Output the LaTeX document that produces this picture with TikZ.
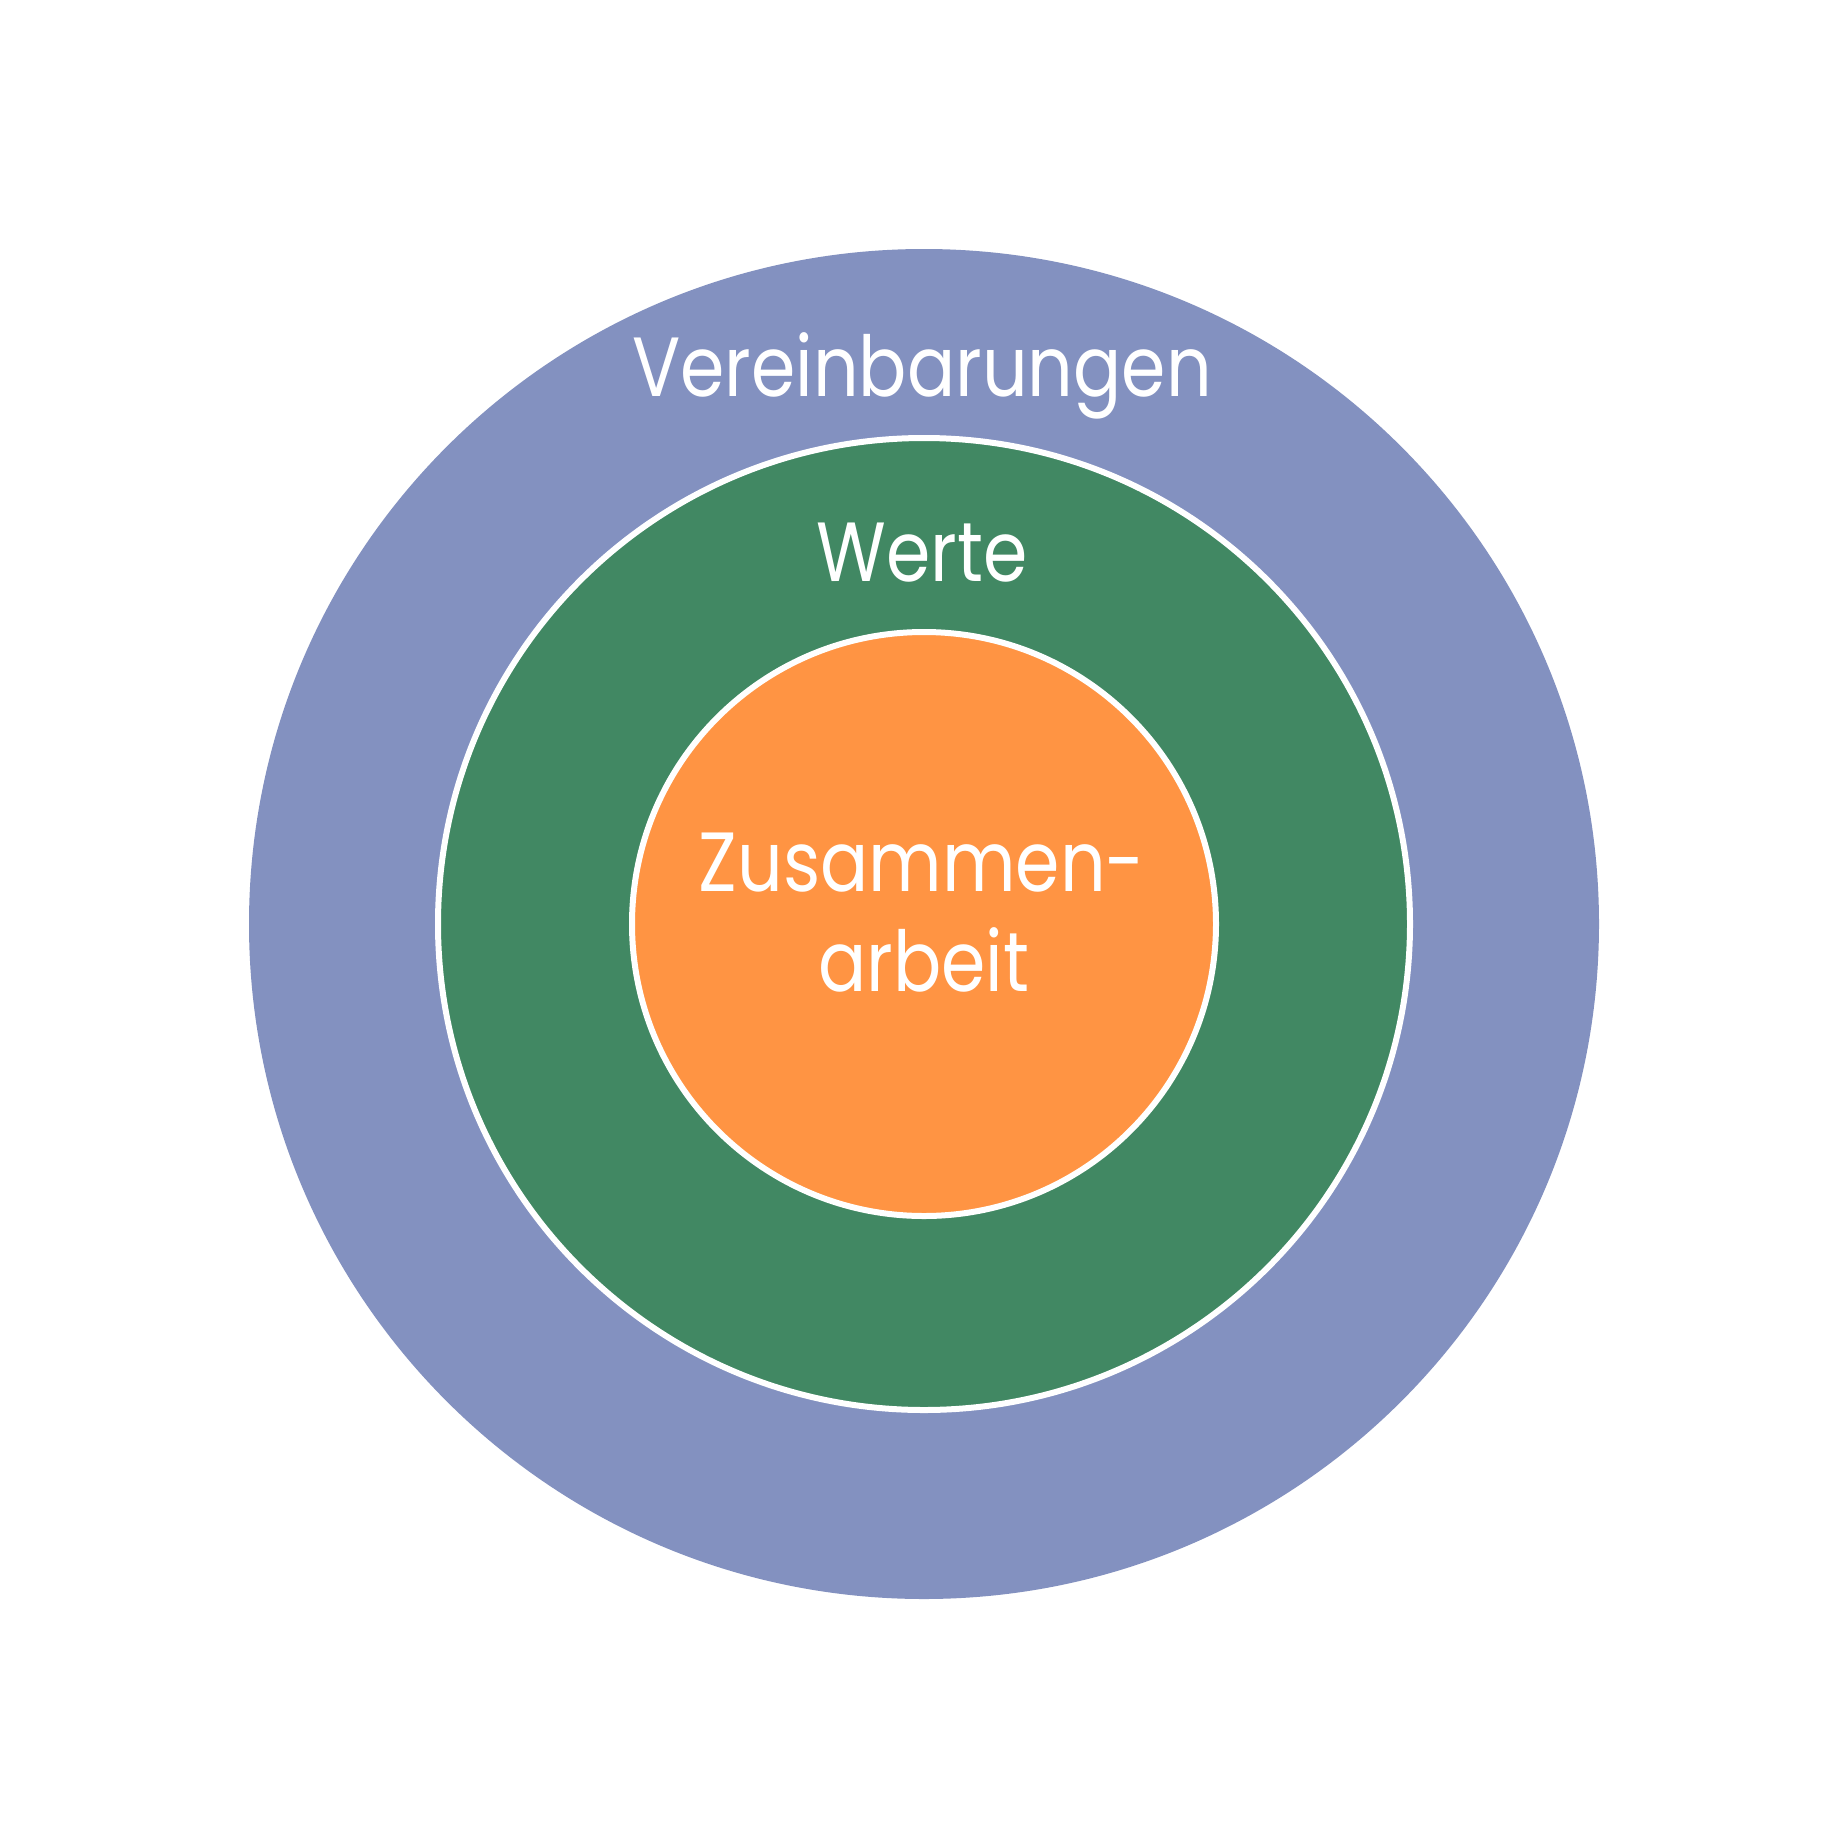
\documentclass[tikz,border=0pt]{standalone}
\usepackage{fontspec}
\setmainfont{Poppins}
\definecolor{outerblue}{HTML}{8391C0}
\definecolor{midgreen}{HTML}{418863}
\definecolor{innerorange}{HTML}{FF9443}
\newcommand{\lbltext}[1]{\scalebox{0.85}[1]{#1}}
\begin{document}
\begin{tikzpicture}[x=1pt,y=-1pt,
  ring/.style={draw=white,line width=6pt},
  lbl/.style={text=white,anchor=base,inner sep=0pt,font=\fontsize{84}{100}\selectfont}]
\useasboundingbox (0,0) rectangle (1847,1847);
\fill[white] (0,0) rectangle (1847,1847);
\fill[outerblue] (924,924) circle[radius=675];
\filldraw[ring,fill=midgreen] (924,924) circle[radius=486];
\filldraw[ring,fill=innerorange] (924,924) circle[radius=292];
\node[lbl] (v) at (922,396) {\lbltext{Vereinbarungen}};
\node[lbl] (w) at (922,581) {\lbltext{Werte}};
\node[lbl] (z) at (922,891) {\lbltext{Zusammen-}};
\node[lbl] (a) at (924,991) {\lbltext{arbeit}};
\end{tikzpicture}
\end{document}
